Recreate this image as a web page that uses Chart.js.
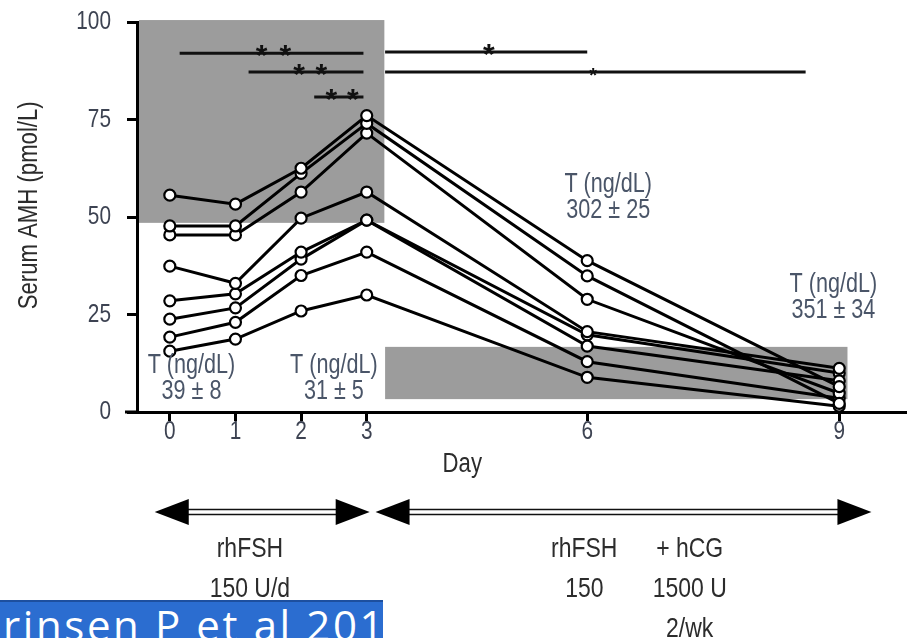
<!DOCTYPE html>
<html>
<head>
<meta charset="utf-8">
<title>Serum AMH</title>
<script src="https://cdn.jsdelivr.net/npm/chart.js@4.4.1/dist/chart.umd.min.js"></script>
<style>
  html, body { margin: 0; padding: 0; background: #fff; }
  #wrap { position: relative; width: 913px; height: 638px; overflow: hidden; }
  canvas { display: block; }
  .cite {
    position: absolute; left: 0; top: 600px; width: 383px; height: 38px;
    background: #2b6dd0; border-top: 2px solid #1d4f9e; box-sizing: border-box; overflow: hidden;
  }
  .cite span {
    position: absolute; left: 3px; top: 2px; color: #fff; white-space: nowrap;
    font: 42px/42px 'Open Sans', 'Liberation Sans', sans-serif; letter-spacing: 2.6px;
  }
</style>
</head>
<body>
<div id="wrap">
  <canvas id="amh" width="913" height="638"></canvas>
  <div class="cite"><span>rinsen P et al 2014</span></div>
</div>
<script>
// days of sampling and the ticks shown on the axes
const days = [0, 1, 2, 3, 6, 9];
const dayTicks = [0, 1, 2, 3, 6, 9];
const amhTicks = [0, 25, 50, 75, 100];

// serum AMH (pmol/L) for each of the 8 patients
const patient1 = [55.6, 53.3, 62.5, 76.0, 38.8, 6.5];
const patient2 = [47.7, 47.7, 61.2, 74.0, 34.9, 2.2];
const patient3 = [45.4, 45.4, 56.4, 71.5, 28.9, 4.8];
const patient4 = [37.4, 33.0, 49.7, 56.4, 20.6, 11.2];
const patient5 = [28.5, 30.3, 41.0, 49.2, 16.9, 8.0];
const patient6 = [23.8, 26.7, 39.2, 49.2, 19.8, 10.0];
const patient7 = [19.2, 23.0, 35.0, 41.0, 12.9, 3.5];
const patient8 = [15.6, 18.7, 25.9, 30.0, 8.9, 1.5];
const patients = [patient1, patient2, patient3, patient4, patient5, patient6, patient7, patient8];

// testosterone notes (text, day, AMH level where the first line sits)
const tNotes = [
    { lines: ["T (ng/dL)", "39 \u00b1 8"], day: 0.33, level: 11.8 },
    { lines: ["T (ng/dL)", "31 \u00b1 5"], day: 2.5, level: 11.8 },
    { lines: ["T (ng/dL)", "302 \u00b1 25"], day: 6.25, level: 58.2 },
    { lines: ["T (ng/dL)", "351 \u00b1 34"], day: 8.93, level: 32.6 }
];

// significance bars
const sigBars = [
    { from: 0.15, to: 2.95, level: 92.0, stars: [1.40, 1.76] },
    { from: 1.20, to: 2.95, level: 87.2, stars: [1.97, 2.31] },
    { from: 2.20, to: 2.95, level: 80.8, stars: [2.46, 2.79] },
    { from: 3.25, to: 6.00, level: 92.3, stars: [4.66] },
    { from: 3.25, to: 8.60, level: 87.2, stars: [6.07], small: true }
];

// gray shaded ranges
const shadedBoxes = [
    { from: null, to: 3.24, low: 48.5, high: 100.5 },
    { from: 3.25, to: 9.1, low: 3.3, high: 16.7 }
];

// treatment phases under the axis
const phases = [
    { from: -0.23, to: 3.04, labels: [{ day: 1.22, lines: ["rhFSH", "150 U/d"] }] },
    { from: 3.12, to: 9.39, labels: [{ day: 5.96, lines: ["rhFSH", "150"] }, { day: 7.22, lines: ["+ hCG", "1500 U", "2/wk"] }] }
];

const FONT = "'Liberation Sans', Arial, sans-serif";
const TEXT_COLOR = "#3d4352";

// Arial Narrow look: regular sans squeezed sideways
function narrowText(ctx, text, x, y, size, opts) {
    opts = opts || {};
    ctx.save();
    ctx.translate(x, y);
    if (opts.rotate) ctx.rotate(opts.rotate);
    ctx.scale(opts.squeeze || 0.8, 1);
    ctx.font = size + "px " + FONT;
    ctx.fillStyle = opts.color || TEXT_COLOR;
    ctx.textAlign = opts.align || "center";
    ctx.textBaseline = "middle";
    ctx.fillText(text, 0, 0);
    ctx.restore();
}

// linear scale that stretches the later days, like the original figure
class SplitDayScale extends Chart.LinearScale {
    _toDecimal(value) {
        const stops = this.options.stops;
        if (value <= stops[0][0]) return stops[0][1];
        for (let i = 1; i < stops.length; i++) {
            if (value <= stops[i][0]) {
                const a = stops[i - 1], b = stops[i];
                return a[1] + (value - a[0]) / (b[0] - a[0]) * (b[1] - a[1]);
            }
        }
        return stops[stops.length - 1][1];
    }
    getPixelForValue(value) {
        return this.getPixelForDecimal(this._toDecimal(value));
    }
    getValueForPixel(pixel) {
        const d = this.getDecimalForPixel(pixel);
        const stops = this.options.stops;
        for (let i = 1; i < stops.length; i++) {
            if (d <= stops[i][1]) {
                const a = stops[i - 1], b = stops[i];
                return a[0] + (d - a[1]) / (b[1] - a[1]) * (b[0] - a[0]);
            }
        }
        return stops[stops.length - 1][0];
    }
}
SplitDayScale.id = "splitDay";
SplitDayScale.defaults = Chart.LinearScale.defaults;
Chart.register(SplitDayScale);

// gray boxes behind the lines
const shadePlugin = {
    id: "shade",
    beforeDatasetsDraw(chart) {
        const { ctx, scales: { x, y } } = chart;
        ctx.save();
        ctx.fillStyle = "#9c9c9c";
        shadedBoxes.forEach(b => {
            const x0 = b.from === null ? x.left + 2 : x.getPixelForValue(b.from);
            const x1 = x.getPixelForValue(b.to);
            const y0 = y.getPixelForValue(b.high);
            const y1 = y.getPixelForValue(b.low);
            ctx.fillRect(x0, y0, x1 - x0, y1 - y0);
        });
        ctx.restore();
    }
};

// significance bars, notes, tick labels and treatment arrows
const notesPlugin = {
    id: "notes",
    afterDatasetsDraw(chart) {
        const { ctx, scales: { x, y } } = chart;
        ctx.save();

        // bars with stars
        ctx.strokeStyle = "#111";
        ctx.fillStyle = "#111";
        ctx.lineWidth = 3;
        sigBars.forEach(bar => {
            const py = y.getPixelForValue(bar.level);
            ctx.beginPath();
            ctx.moveTo(x.getPixelForValue(bar.from), py);
            ctx.lineTo(x.getPixelForValue(bar.to), py);
            ctx.stroke();
            ctx.font = (bar.small ? "bold 20px " : "bold 30px ") + "'Liberation Sans', sans-serif";
            ctx.textAlign = "center";
            ctx.textBaseline = "alphabetic";
            bar.stars.forEach(d => {
                ctx.fillText("*", x.getPixelForValue(d), py + (bar.small ? 10 : 12));
            });
        });
        ctx.restore();

        // T notes
        tNotes.forEach(n => {
            const px = x.getPixelForValue(n.day);
            const py = y.getPixelForValue(n.level);
            n.lines.forEach((line, i) => narrowText(ctx, line, px, py + i * 26, 27, { color: "#4a5568" }));
        });
    },
    afterDraw(chart) {
        const { ctx, scales: { x, y } } = chart;
        const axisY = x.top;

        // axis stub left of the y axis
        ctx.save();
        ctx.strokeStyle = "#000";
        ctx.lineWidth = 3;
        ctx.beginPath();
        ctx.moveTo(x.left - 12, axisY);
        ctx.lineTo(x.left, axisY);
        ctx.stroke();
        ctx.restore();

        // tick labels
        x.ticks.forEach(t => narrowText(ctx, String(t.value), x.getPixelForValue(t.value), axisY + 20, 26));
        y.ticks.forEach(t => narrowText(ctx, String(t.value), y.left + 111, y.getPixelForValue(t.value), 26, { align: "right" }));

        // axis titles
        narrowText(ctx, "Serum AMH (pmol/L)", 30, y.getPixelForValue(53), 27, { rotate: -Math.PI / 2, squeeze: 0.82, color: "#2c2c2c" });
        narrowText(ctx, "Day", x.getPixelForValue(4.3), axisY + 53, 27, { color: "#2c2c2c", squeeze: 0.82 });

        // arrows
        const arrowY = axisY + 100;
        ctx.save();
        phases.forEach(p => {
            const x0 = x.getPixelForValue(p.from);
            const x1 = x.getPixelForValue(p.to);
            const head = 34, half = 13;
            ctx.strokeStyle = "#111";
            ctx.lineWidth = 1.5;
            [-2.5, 2.5].forEach(off => {
                ctx.beginPath();
                ctx.moveTo(x0 + head - 2, arrowY + off);
                ctx.lineTo(x1 - head + 2, arrowY + off);
                ctx.stroke();
            });
            ctx.fillStyle = "#000";
            ctx.beginPath();
            ctx.moveTo(x0, arrowY);
            ctx.lineTo(x0 + head, arrowY - half);
            ctx.lineTo(x0 + head, arrowY + half);
            ctx.closePath();
            ctx.fill();
            ctx.beginPath();
            ctx.moveTo(x1, arrowY);
            ctx.lineTo(x1 - head, arrowY - half);
            ctx.lineTo(x1 - head, arrowY + half);
            ctx.closePath();
            ctx.fill();

            p.labels.forEach(l => {
                const px = x.getPixelForValue(l.day);
                l.lines.forEach((line, i) => narrowText(ctx, line, px, arrowY + 37 + i * 40, 28, { color: "#2c2c2c", squeeze: 0.82 }));
            });
        });
        ctx.restore();
    }
};

new Chart(document.getElementById("amh"), {
    type: "line",
    data: {
        datasets: patients.map((values, i) => ({
            label: "Patient " + (i + 1),
            data: days.map((d, j) => ({ x: d, y: values[j] })),
            borderColor: "#000",
            borderWidth: 3,
            pointRadius: 5.5,
            pointBorderWidth: 2.2,
            pointBackgroundColor: "#fff",
            pointBorderColor: "#000",
            tension: 0,
            fill: false,
            clip: false
        }))
    },
    options: {
        responsive: false,
        animation: false,
        devicePixelRatio: 1,
        layout: { padding: { top: 22, left: 0, right: 0, bottom: 0 } },
        plugins: {
            legend: { display: false },
            tooltip: { enabled: false }
        },
        scales: {
            x: {
                type: "splitDay",
                min: -0.5,
                max: 9.8,
                stops: [[-0.5, 0], [3, 0.299], [6, 0.586], [9, 0.914], [9.8, 1]],
                afterBuildTicks: s => { s.ticks = dayTicks.map(v => ({ value: v })); },
                afterFit: s => { s.height = 226; },
                border: { display: true, color: "#000", width: 3 },
                grid: { drawOnChartArea: false, drawTicks: true, tickLength: 9, color: "#000", lineWidth: 3 },
                ticks: { display: false }
            },
            y: {
                min: 0,
                max: 100,
                afterBuildTicks: s => { s.ticks = amhTicks.map(v => ({ value: v })); },
                afterFit: s => { s.width = 137; },
                border: { display: true, color: "#000", width: 3 },
                grid: { drawOnChartArea: false, drawTicks: true, tickLength: 10, color: "#000", lineWidth: 3 },
                ticks: { display: false }
            }
        }
    },
    plugins: [shadePlugin, notesPlugin]
});
</script>
</body>
</html>
